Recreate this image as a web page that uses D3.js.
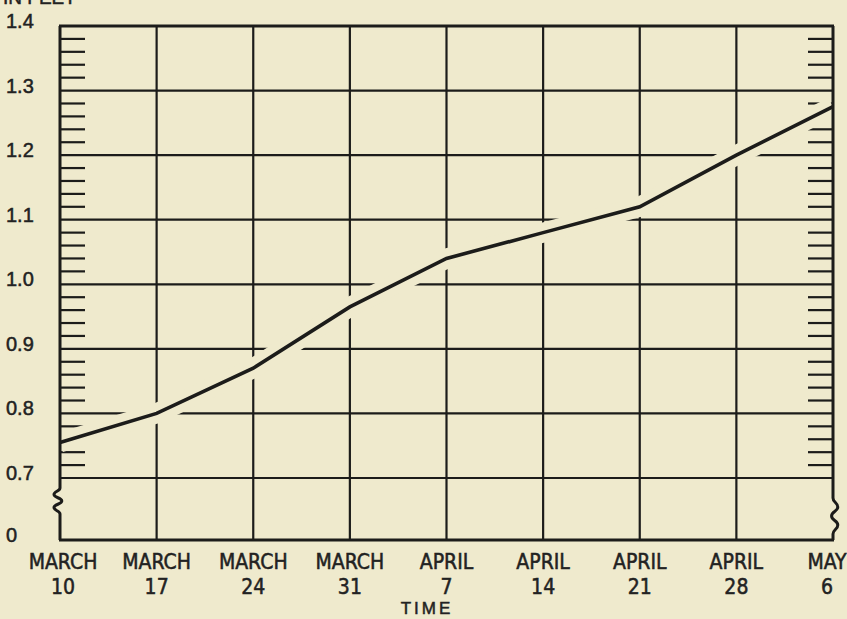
<!DOCTYPE html>
<html>
<head>
<meta charset="utf-8">
<script src="https://cdn.jsdelivr.net/npm/d3@7"></script>
<style>
  html, body { margin: 0; padding: 0; background: #efeacd; }
  svg { display: block; }
</style>
</head>
<body>
<svg id="chart" width="847" height="619"></svg>
<script>
// ---- data ----
const months = ["MARCH","MARCH","MARCH","MARCH","APRIL","APRIL","APRIL","APRIL","MAY"];
const days = ["10","17","24","31","7","14","21","28","6"];
const stage = [0.755, 0.80, 0.87, 0.965, 1.04, 1.08, 1.12, 1.20, 1.275];
const yTickValues = [0, 0.7, 0.8, 0.9, 1.0, 1.1, 1.2, 1.3, 1.4];
const yTickLabels = ["0","0.7","0.8","0.9","1.0","1.1","1.2","1.3","1.4"];
const minorTicks = [0.72,0.74,0.76,0.78,0.82,0.84,0.86,0.88,0.92,0.94,0.96,0.98,
  1.02,1.04,1.06,1.08,1.12,1.14,1.16,1.18,1.22,1.24,1.26,1.28,1.32,1.34,1.36,1.38];
const xTitle = "TIME";
const yTitle = "IN FEET";

// ---- setup ----
const bg = "#efeacd";
const ink = "#1c1c1a";
const svg = d3.select("#chart");
const L = 60, R = 833, T = 26, B = 540;
const keys = days.map((d, i) => months[i] + " " + d);
const x = d3.scalePoint().domain(keys).range([L, R]);
const y = d3.scaleLinear().domain([0, 0.7, 1.4]).range([B, 478, T]);

const g = svg.append("g");

// horizontal grid lines
g.selectAll("line.hgrid").data(yTickValues.filter(v => v > 0 && v < 1.4)).join("line")
  .attr("x1", L).attr("x2", R)
  .attr("y1", d => y(d)).attr("y2", d => y(d))
  .attr("stroke", ink).attr("stroke-width", 2.2);

// vertical grid lines
g.selectAll("line.vgrid").data(keys.slice(1, -1)).join("line")
  .attr("x1", d => x(d)).attr("x2", d => x(d))
  .attr("y1", T).attr("y2", B)
  .attr("stroke", ink).attr("stroke-width", 2.2);

// minor ticks left and right
g.selectAll("line.tl").data(minorTicks).join("line")
  .attr("x1", L).attr("x2", L + 25)
  .attr("y1", d => y(d)).attr("y2", d => y(d))
  .attr("stroke", ink).attr("stroke-width", 2.2);
g.selectAll("line.tr").data(minorTicks).join("line")
  .attr("x1", R - 25).attr("x2", R)
  .attr("y1", d => y(d)).attr("y2", d => y(d))
  .attr("stroke", ink).attr("stroke-width", 2.2);

// line with halo gap
const lineGen = d3.line().x((d, i) => x(keys[i])).y(d => y(d));
g.append("path").datum(stage).attr("d", lineGen)
  .attr("fill", "none").attr("stroke", bg).attr("stroke-width", 20)
  .attr("stroke-linejoin", "round");
g.append("path").datum(stage).attr("d", lineGen)
  .attr("fill", "none").attr("stroke", ink).attr("stroke-width", 3.6)
  .attr("stroke-linejoin", "miter");

// frame: top, bottom
g.append("line").attr("x1", L - 1).attr("x2", R + 1).attr("y1", T).attr("y2", T)
  .attr("stroke", ink).attr("stroke-width", 3);
g.append("line").attr("x1", L - 1).attr("x2", R + 1).attr("y1", B).attr("y2", B)
  .attr("stroke", ink).attr("stroke-width", 3);

// side axes with break squiggles
function sideAxis(ax, s0, s1, dir) {
  const p = d3.path();
  p.moveTo(ax, T);
  p.lineTo(ax, s0);
  const h = (s1 - s0) / 4;
  const a = 6 * dir;
  p.bezierCurveTo(ax, s0 + h * 0.5, ax - a, s0 + h * 0.5, ax - a, s0 + h);
  p.bezierCurveTo(ax - a, s0 + h * 1.5, ax + a * 0.3, s0 + h * 1.5, ax + a * 0.3, s0 + h * 2);
  p.bezierCurveTo(ax + a * 0.3, s0 + h * 2.5, ax - a, s0 + h * 2.5, ax - a, s0 + h * 3);
  p.bezierCurveTo(ax - a, s0 + h * 3.5, ax, s0 + h * 3.5, ax, s1);
  p.lineTo(ax, B);
  g.append("path").attr("d", p.toString()).attr("fill", "none")
    .attr("stroke", ink).attr("stroke-width", 3);
}
sideAxis(L, 488, 514, 1);
sideAxis(R, 498, 534, -0.8);

// y labels
const textStyle = sel => sel.attr("fill", "#222").attr("stroke", "#222").attr("stroke-width", 0.5)
  .attr("font-family", "'Liberation Sans', Arial, sans-serif");
svg.selectAll("text.ylab").data(yTickValues).join("text")
  .attr("x", 6).attr("y", d => y(d) + 2)
  .attr("font-size", 20)
  .call(textStyle)
  .text((d, i) => yTickLabels[i]);

// x labels
const narrow = "'Liberation Sans Narrow', 'Arial Narrow', 'DejaVu Sans Condensed', sans-serif";
const xl = svg.selectAll("g.xlab").data(keys).join("g")
  .attr("transform", (d, i) => `translate(${x(d) + (i === 0 ? 3 : i === keys.length - 1 ? -6 : 0)},0)`);
xl.append("text").attr("y", 569).attr("text-anchor", "middle")
  .attr("font-size", 21).call(textStyle).attr("font-family", narrow)
  .text((d, i) => months[i]);
xl.append("text").attr("y", 594).attr("text-anchor", "middle")
  .attr("font-size", 21).call(textStyle).attr("font-family", narrow)
  .text((d, i) => days[i]);

// axis titles
svg.append("text").attr("x", 427).attr("y", 614).attr("text-anchor", "middle")
  .attr("font-size", 17).attr("letter-spacing", 3).call(textStyle)
  .text(xTitle);
svg.append("text").attr("x", 3).attr("y", 4)
  .attr("font-size", 19).call(textStyle)
  .text(yTitle);
</script>
</body>
</html>
